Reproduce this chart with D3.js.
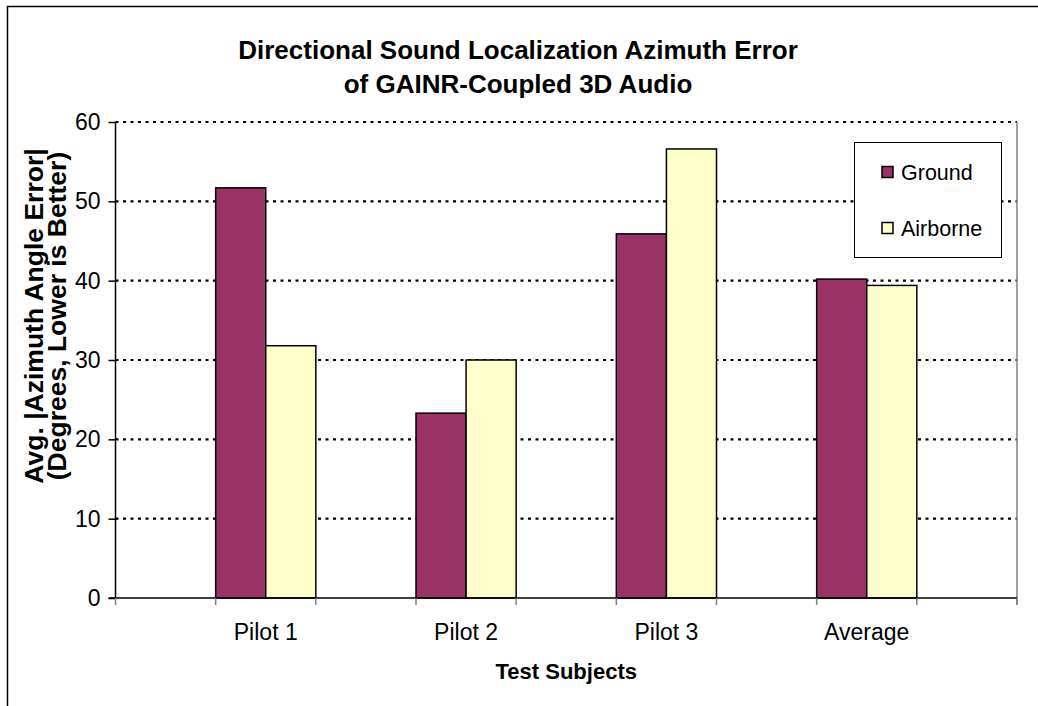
<!DOCTYPE html>
<html>
<head>
<meta charset="utf-8">
<script src="https://cdn.jsdelivr.net/npm/d3@7"></script>
<style>
  body { margin: 0; background: #fff; }
  text { font-family: "Liberation Sans", Arial, sans-serif; fill: #000; }
</style>
</head>
<body>
<div id="chart"></div>
<script>
// data
var categories = ["Pilot 1", "Pilot 2", "Pilot 3", "Average"];
var seriesNames = ["Ground", "Airborne"];
var groundValues = [51.7, 23.3, 45.9, 40.2];
var airborneValues = [31.8, 30.0, 56.6, 39.4];
var yTicks = [0, 10, 20, 30, 40, 50, 60];
var seriesColors = ["#993366", "#FFFFCC"];

var width = 1038, height = 706;

var plot = {
    left: 115.5,
    right: 1017,
    top: 122,
    bottom: 598
};

var svg = d3.select("#chart").append("svg")
    .attr("width", width)
    .attr("height", height);

// outer chart border (runs off the right and bottom of the picture)
svg.append("rect")
    .attr("x", 7.5)
    .attr("y", 6.5)
    .attr("width", 1050)
    .attr("height", 720)
    .attr("fill", "#fff")
    .attr("stroke", "#000")
    .attr("stroke-width", 1.5);

// rows for the bars
var rows = categories.map(function (c, i) {
    return { cat: c, values: [groundValues[i], airborneValues[i]] };
});

var xScale = d3.scaleBand()
    .domain(categories)
    .range([plot.left, plot.right])
    .paddingInner(0.5)
    .paddingOuter(0.5);

var xInner = d3.scaleBand()
    .domain(seriesNames)
    .range([0, xScale.bandwidth()])
    .padding(0);

var yScale = d3.scaleLinear()
    .domain([0, 60])
    .range([plot.bottom, plot.top]);

// dotted gridlines
svg.append("g")
    .selectAll("line")
    .data(yTicks.filter(function (d) { return d > 0; }))
    .enter()
    .append("line")
    .attr("x1", plot.left)
    .attr("x2", plot.right)
    .attr("y1", d => yScale(d))
    .attr("y2", d => yScale(d))
    .attr("stroke", "#000")
    .attr("stroke-width", 2.2)
    .attr("stroke-dasharray", "3,4.5");

// right border of plot area
svg.append("line")
    .attr("x1", plot.right)
    .attr("x2", plot.right)
    .attr("y1", plot.top)
    .attr("y2", plot.bottom + 7)
    .attr("stroke", "#808080")
    .attr("stroke-width", 1.5);

// bars
var groups = svg.append("g")
    .selectAll("g")
    .data(rows)
    .enter()
    .append("g")
    .attr("transform", d => `translate(${xScale(d.cat)},0)`);

groups.selectAll("rect")
    .data(d => d.values.map(function (v, j) { return { name: seriesNames[j], value: v, idx: j }; }))
    .enter()
    .append("rect")
    .attr("x", d => xInner(d.name))
    .attr("y", d => yScale(d.value))
    .attr("width", xInner.bandwidth())
    .attr("height", d => plot.bottom - yScale(d.value))
    .attr("fill", d => seriesColors[d.idx])
    .attr("stroke", "#000")
    .attr("stroke-width", 1.5);

// y axis
var yAxis = d3.axisLeft(yScale)
    .tickValues(yTicks)
    .tickSize(7)
    .tickPadding(8);

var yAxisG = svg.append("g")
    .attr("transform", `translate(${plot.left},0)`)
    .call(yAxis);
yAxisG.select(".domain").attr("stroke", "#000").attr("stroke-width", 1.5)
    .attr("d", `M0,${plot.top}V${plot.bottom}`);
yAxisG.selectAll(".tick line").attr("stroke", "#000").attr("stroke-width", 1.5);
yAxisG.selectAll(".tick text")
    .attr("font-size", 23)
    .attr("font-family", "Liberation Sans, Arial, sans-serif");

// x axis line
svg.append("line")
    .attr("x1", plot.left - 7)
    .attr("x2", plot.right)
    .attr("y1", plot.bottom)
    .attr("y2", plot.bottom)
    .attr("stroke", "#000")
    .attr("stroke-width", 1.5);

// x tick marks at plot edges and bar group edges
var xTickPos = [plot.left, plot.right];
categories.forEach(function (c) {
    xTickPos.push(xScale(c));
    xTickPos.push(xScale(c) + xScale.bandwidth());
});
svg.append("g")
    .selectAll("line")
    .data(xTickPos)
    .enter()
    .append("line")
    .attr("x1", d => d)
    .attr("x2", d => d)
    .attr("y1", plot.bottom)
    .attr("y2", plot.bottom + 7)
    .attr("stroke", "#808080")
    .attr("stroke-width", 1.5);

// x category labels
svg.append("g")
    .selectAll("text")
    .data(categories)
    .enter()
    .append("text")
    .attr("x", d => xScale(d) + xScale.bandwidth() / 2)
    .attr("y", 640)
    .attr("text-anchor", "middle")
    .attr("font-size", 23)
    .text(d => d);

// title
var title = svg.append("text")
    .attr("text-anchor", "middle")
    .attr("font-size", 26)
    .attr("font-weight", "bold");
title.append("tspan").attr("x", 518).attr("y", 59)
    .text("Directional Sound Localization Azimuth Error");
title.append("tspan").attr("x", 518).attr("y", 93)
    .text("of GAINR-Coupled 3D Audio");

// x axis title
svg.append("text")
    .attr("x", (plot.left + plot.right) / 2)
    .attr("y", 679)
    .attr("text-anchor", "middle")
    .attr("font-size", 22)
    .attr("font-weight", "bold")
    .text("Test Subjects");

// y axis title
var yTitle = svg.append("text")
    .attr("transform", "translate(0, 316) rotate(-90)")
    .attr("text-anchor", "middle")
    .attr("font-size", 26.5)
    .attr("font-weight", "bold");
yTitle.append("tspan").attr("x", 0).attr("y", 43)
    .text("Avg. |Azimuth Angle Error|");
yTitle.append("tspan").attr("x", 0).attr("y", 66)
    .text("(Degrees, Lower is Better)");

// legend
var legend = svg.append("g");
legend.append("rect")
    .attr("x", 854.5)
    .attr("y", 142.5)
    .attr("width", 147)
    .attr("height", 115)
    .attr("fill", "#fff")
    .attr("stroke", "#000")
    .attr("stroke-width", 1);

var legendY = [172, 228];
seriesNames.forEach(function (name, i) {
    legend.append("rect")
        .attr("x", 882)
        .attr("y", legendY[i] - 5.5)
        .attr("width", 11)
        .attr("height", 11)
        .attr("fill", seriesColors[i])
        .attr("stroke", "#000")
        .attr("stroke-width", 1.5);
    legend.append("text")
        .attr("x", 901)
        .attr("y", legendY[i] + 7.5)
        .attr("font-size", 21.5)
        .text(name);
});
</script>
</body>
</html>
